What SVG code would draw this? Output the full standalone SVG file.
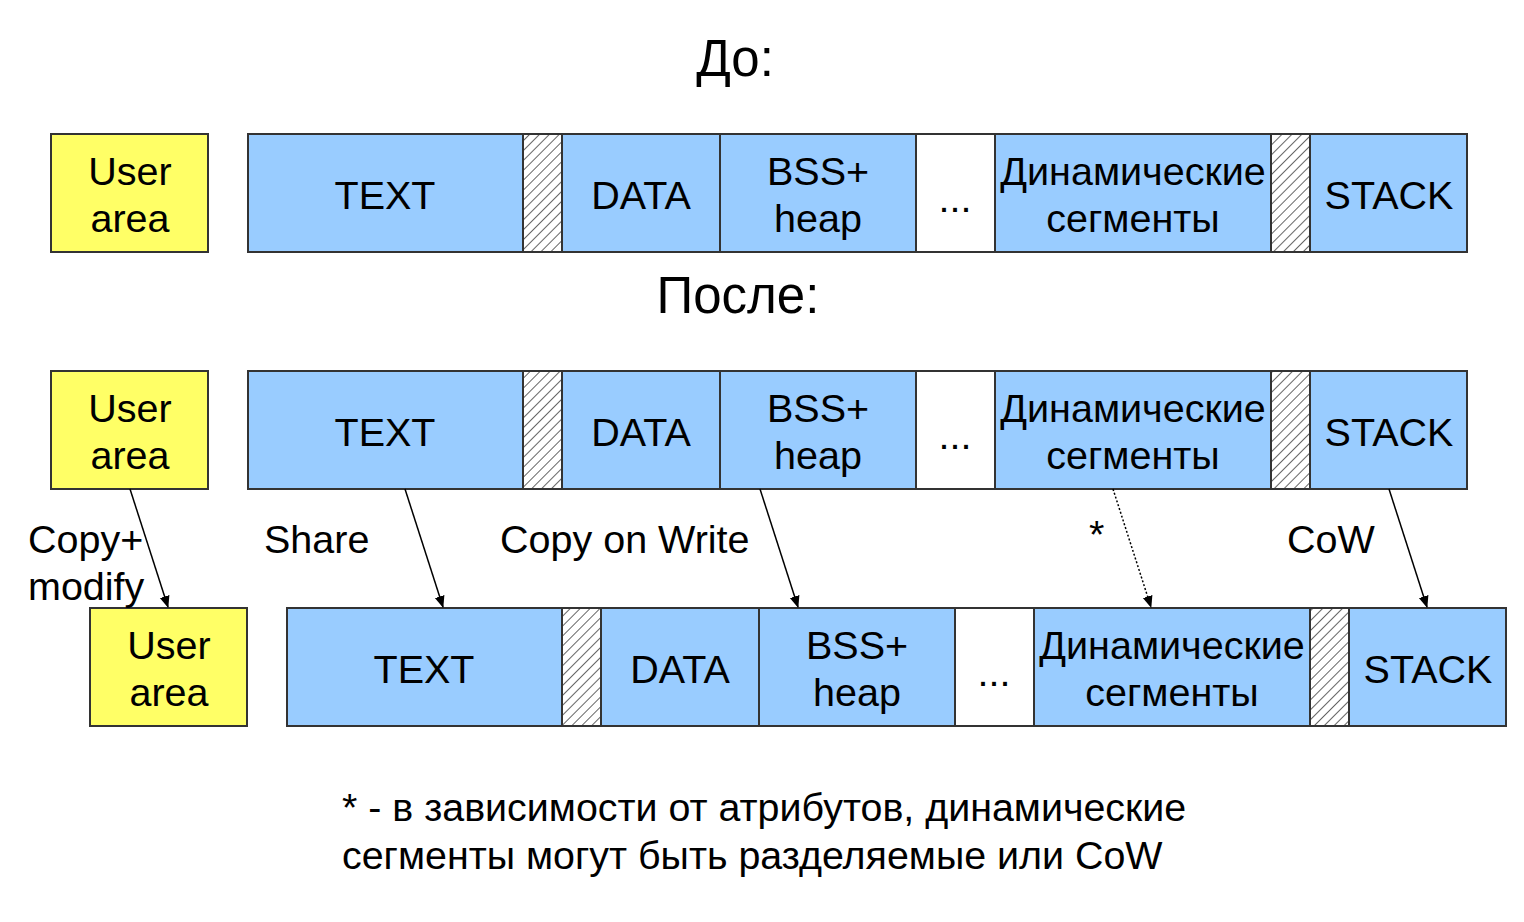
<svg xmlns="http://www.w3.org/2000/svg" width="1524" height="922" viewBox="0 0 1524 922">
<style>
.b{fill:#99CCFF;stroke:#333;stroke-width:2}
.y{fill:#FFFF66;stroke:#333;stroke-width:2}
.w{fill:#fff;stroke:#333;stroke-width:2}
.h{fill:url(#hatch);stroke:#333;stroke-width:2}
text{font-family:"Liberation Sans",Arial,sans-serif;fill:#000}
.t{font-size:39.5px;text-anchor:middle}
.l{font-size:39.5px}
.hd{font-size:51px;text-anchor:middle}
.f{font-size:39.4px}
.a{stroke:#000;stroke-width:1.5;fill:none;marker-end:url(#ah)}
.d{stroke:#000;stroke-width:1.5;fill:none;stroke-dasharray:2 2;marker-end:url(#ah)}
</style>
<defs>
<pattern id="hatch" patternUnits="userSpaceOnUse" width="7" height="7" patternTransform="rotate(45)">
<rect width="7" height="7" fill="#fff"/>
<line x1="0" y1="0" x2="0" y2="7" stroke="#333" stroke-width="1.5"/>
</pattern>
<marker id="ah" markerWidth="12" markerHeight="12" refX="11" refY="5" orient="auto" markerUnits="userSpaceOnUse" viewBox="0 0 12 10">
<path d="M0,0 L12,5 L0,10 z" fill="#000"/>
</marker>
</defs>
<text class="hd" x="735" y="76">До:</text>
<text class="hd" x="738" y="313">После:</text>
<g id="row1">
<g id="r1-user"><rect class="y" x="51" y="134" width="157" height="118"/><text class="t" x="130" y="185">User</text><text class="t" x="130" y="232">area</text></g>
<g id="r1-text"><rect class="b" x="248" y="134" width="275" height="118"/><text class="t" x="385" y="209">TEXT</text></g>
<g id="r1-h1"><rect class="h" x="523" y="134" width="39" height="118"/></g>
<g id="r1-data"><rect class="b" x="562" y="134" width="158" height="118"/><text class="t" x="641" y="209">DATA</text></g>
<g id="r1-bss"><rect class="b" x="720" y="134" width="196" height="118"/><text class="t" x="818" y="185">BSS+</text><text class="t" x="818" y="232">heap</text></g>
<g id="r1-dots"><rect class="w" x="916" y="134" width="79" height="118"/><text class="t" x="955" y="212">...</text></g>
<g id="r1-dyn"><rect class="b" x="995" y="134" width="276" height="118"/><text class="t" x="1133" y="185">Динамические</text><text class="t" x="1133" y="232">сегменты</text></g>
<g id="r1-h2"><rect class="h" x="1271" y="134" width="39" height="118"/></g>
<g id="r1-stack"><rect class="b" x="1310" y="134" width="157" height="118"/><text class="t" x="1389" y="209">STACK</text></g>
</g>
<g id="row2">
<g id="r2-user"><rect class="y" x="51" y="371" width="157" height="118"/><text class="t" x="130" y="422">User</text><text class="t" x="130" y="469">area</text></g>
<g id="r2-text"><rect class="b" x="248" y="371" width="275" height="118"/><text class="t" x="385" y="446">TEXT</text></g>
<g id="r2-h1"><rect class="h" x="523" y="371" width="39" height="118"/></g>
<g id="r2-data"><rect class="b" x="562" y="371" width="158" height="118"/><text class="t" x="641" y="446">DATA</text></g>
<g id="r2-bss"><rect class="b" x="720" y="371" width="196" height="118"/><text class="t" x="818" y="422">BSS+</text><text class="t" x="818" y="469">heap</text></g>
<g id="r2-dots"><rect class="w" x="916" y="371" width="79" height="118"/><text class="t" x="955" y="449">...</text></g>
<g id="r2-dyn"><rect class="b" x="995" y="371" width="276" height="118"/><text class="t" x="1133" y="422">Динамические</text><text class="t" x="1133" y="469">сегменты</text></g>
<g id="r2-h2"><rect class="h" x="1271" y="371" width="39" height="118"/></g>
<g id="r2-stack"><rect class="b" x="1310" y="371" width="157" height="118"/><text class="t" x="1389" y="446">STACK</text></g>
</g>
<g id="row3">
<g id="r3-user"><rect class="y" x="90" y="608" width="157" height="118"/><text class="t" x="169" y="659">User</text><text class="t" x="169" y="706">area</text></g>
<g id="r3-text"><rect class="b" x="287" y="608" width="275" height="118"/><text class="t" x="424" y="683">TEXT</text></g>
<g id="r3-h1"><rect class="h" x="562" y="608" width="39" height="118"/></g>
<g id="r3-data"><rect class="b" x="601" y="608" width="158" height="118"/><text class="t" x="680" y="683">DATA</text></g>
<g id="r3-bss"><rect class="b" x="759" y="608" width="196" height="118"/><text class="t" x="857" y="659">BSS+</text><text class="t" x="857" y="706">heap</text></g>
<g id="r3-dots"><rect class="w" x="955" y="608" width="79" height="118"/><text class="t" x="994" y="686">...</text></g>
<g id="r3-dyn"><rect class="b" x="1034" y="608" width="276" height="118"/><text class="t" x="1172" y="659">Динамические</text><text class="t" x="1172" y="706">сегменты</text></g>
<g id="r3-h2"><rect class="h" x="1310" y="608" width="39" height="118"/></g>
<g id="r3-stack"><rect class="b" x="1349" y="608" width="157" height="118"/><text class="t" x="1428" y="683">STACK</text></g>
</g>
<g id="connectors">
<line class="a" x1="130" y1="489" x2="168" y2="607"/>
<line class="a" x1="405" y1="489" x2="443" y2="607"/>
<line class="a" x1="760" y1="489" x2="798" y2="607"/>
<line class="d" x1="1113" y1="489" x2="1151" y2="607"/>
<line class="a" x1="1389" y1="489" x2="1427" y2="607"/>
</g>
<g id="labels">
<text class="l" x="28" y="553">Copy+</text>
<text class="l" x="28" y="600">modify</text>
<text class="l" x="264" y="553">Share</text>
<text class="l" x="500" y="553">Copy on Write</text>
<text class="l" x="1089" y="548">*</text>
<text class="l" x="1287" y="553">CoW</text>
</g>
<g id="footnote">
<text class="f" x="342" y="821">* - в зависимости от атрибутов, динамические</text>
<text class="f" x="342" y="869">сегменты могут быть разделяемые или CoW</text>
</g>
</svg>
